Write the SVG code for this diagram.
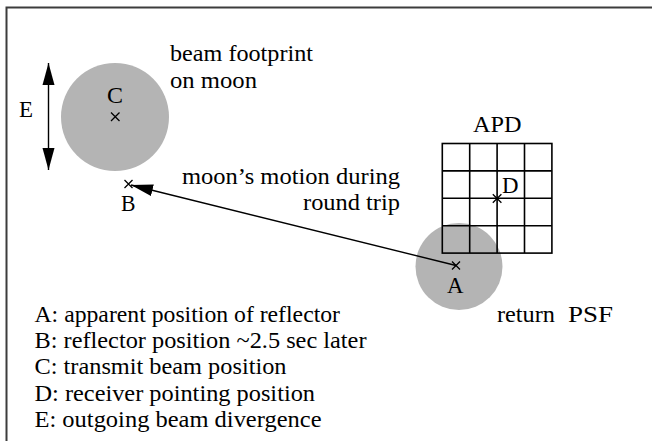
<svg xmlns="http://www.w3.org/2000/svg" width="652" height="441" viewBox="0 0 652 441">
<style>
text{font-family:"Liberation Serif","Times New Roman",serif;font-size:22.5px;fill:#000}
.x{stroke:#000;stroke-width:1.3;fill:none}
.grid{stroke:#000;stroke-width:1.6;fill:none}
.spot{fill:#b4b4b4}
.conn{stroke:#000;stroke-width:1.4;fill:none}
</style>
<defs>
<marker id="ah" markerUnits="userSpaceOnUse" markerWidth="24" markerHeight="14" viewBox="0 -7 24 14" refX="22" refY="0" orient="auto-start-reverse">
<path d="M0,-6 L22,0 L0,6 z" fill="#000"/>
</marker>
</defs>
<rect width="652" height="441" fill="#fff"/>
<path d="M6.5,441 V7.5 H652" stroke="#3c3c3c" stroke-width="2" fill="none"/>

<g id="footprint">
<circle class="spot" cx="115" cy="117" r="54"/>
<text x="107" y="103" textLength="16" lengthAdjust="spacingAndGlyphs">C</text>
<path class="x" d="M111,112.5 L119.5,121 M119.5,112.5 L111,121"/>
<text x="170" y="61" textLength="143" lengthAdjust="spacingAndGlyphs">beam footprint</text>
<text x="170" y="88" textLength="87" lengthAdjust="spacingAndGlyphs">on moon</text>
</g>

<g id="divergence">
<text x="19" y="117" textLength="14" lengthAdjust="spacingAndGlyphs">E</text>
</g>

<g id="pointB">
<path class="x" d="M124.5,180 L132.5,188 M132.5,180 L124.5,188"/>
<text x="121" y="211" textLength="14.5" lengthAdjust="spacingAndGlyphs">B</text>
</g>

<g id="returnPSF">
<circle class="spot" cx="459" cy="266.5" r="43.5"/>
</g>

<g id="APD">
<text x="473" y="131.5" textLength="48.5" lengthAdjust="spacingAndGlyphs">APD</text>
<rect class="grid" x="442.3" y="143.5" width="109.6" height="109.6"/>
<path class="grid" d="M469.7,143.5 V253.1 M497.1,143.5 V253.1 M524.5,143.5 V253.1 M442.3,170.9 H551.9 M442.3,198.3 H551.9 M442.3,225.7 H551.9"/>
<path class="x" d="M492.8,194.2 L501.4,202.8 M501.4,194.2 L492.8,202.8"/>
<text x="502" y="193" textLength="16.5" lengthAdjust="spacingAndGlyphs">D</text>
</g>

<g id="pointA">
<path class="x" d="M452,261.5 L460,269.5 M460,261.5 L452,269.5"/>
<text x="447" y="293" textLength="16.5" lengthAdjust="spacingAndGlyphs">A</text>
</g>

<g id="connectors">
<line class="conn" x1="48.5" y1="63" x2="48.5" y2="170" marker-start="url(#ah)" marker-end="url(#ah)"/>
<line class="conn" x1="456" y1="265.5" x2="131" y2="185" marker-end="url(#ah)"/>
</g>

<g id="labels">
<text x="182" y="184" textLength="218" lengthAdjust="spacingAndGlyphs">moon’s motion during</text>
<text x="303" y="210" textLength="97" lengthAdjust="spacingAndGlyphs">round trip</text>
<text x="497" y="321.5" textLength="58" lengthAdjust="spacingAndGlyphs">return</text>
<text x="568" y="321.5" textLength="45" lengthAdjust="spacingAndGlyphs">PSF</text>
</g>

<g id="legend">
<text x="34.5" y="321.5" textLength="305.5" lengthAdjust="spacingAndGlyphs">A: apparent position of reflector</text>
<text x="34.5" y="348" textLength="332" lengthAdjust="spacingAndGlyphs">B: reflector position ~2.5 sec later</text>
<text x="34.5" y="374.3" textLength="252" lengthAdjust="spacingAndGlyphs">C: transmit beam position</text>
<text x="34.5" y="400.5" textLength="280.5" lengthAdjust="spacingAndGlyphs">D: receiver pointing position</text>
<text x="34.5" y="426.7" textLength="287" lengthAdjust="spacingAndGlyphs">E: outgoing beam divergence</text>
</g>
</svg>
